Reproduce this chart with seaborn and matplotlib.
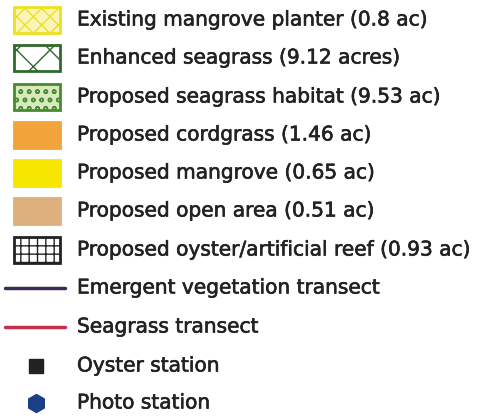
import seaborn as sns
import matplotlib.pyplot as plt
import matplotlib.patheffects as pe
from matplotlib.patches import Rectangle

sns.set_style("white")
plt.rcParams['font.family'] = ['DejaVu Sans']

labels = ['Existing mangrove planter (0.8 ac)',
          'Enhanced seagrass (9.12 acres)',
          'Proposed seagrass habitat (9.53 ac)',
          'Proposed cordgrass (1.46 ac)',
          'Proposed mangrove (0.65 ac)',
          'Proposed open area (0.51 ac)',
          'Proposed oyster/artificial reef (0.93 ac)',
          'Emergent vegetation transect',
          'Seagrass transect',
          'Oyster station',
          'Photo station']
kinds = ['patch'] * 7 + ['line', 'line', 'square', 'hex']
fills = ['#fbf4b8', '#ffffff', '#d6eabd', '#f2a43a', '#f7e600', '#ddb07e', '#ffffff',
         None, None, None, None]
edges = ['#ece020', '#2f6a2c', '#4a8a32', '#f2a43a', '#f7e600', '#ddb07e', '#222222',
         '#3b2b55', '#c42e4c', '#222222', '#1a3f85']
hatch_cols = ['#fffbe6', '#2f6a2c', '#3d7a2a', None, None, None, '#333333',
              None, None, None, None]
hatches = ['xx', 'x', 'oo', None, None, None, '++', None, None, None, None]
rows_y = [20, 58, 97, 135, 173, 211, 250, 288, 327, 366, 403]

fig = plt.figure(figsize=(4.79, 4.2), dpi=100)
ax = fig.add_axes([0, 0, 1, 1])
ax.set_xlim(0, 479)
ax.set_ylim(420, 0)
ax.axis('off')

stroke = [pe.withStroke(linewidth=0.45, foreground='#222222')]

for lab, kind, fc, ec, hc, h, y in zip(labels, kinds, fills, edges, hatch_cols,
                                       hatches, rows_y):
    if kind == 'patch':
        if hc:
            plt.rcParams['hatch.color'] = hc
        r = Rectangle((14, y - 13), 46, 26, facecolor=fc, edgecolor=ec,
                      linewidth=2, hatch=h)
        ax.add_patch(r)
    elif kind == 'line':
        ax.plot([5, 65], [y, y], color=ec, lw=2.5)
    elif kind == 'square':
        ax.plot([36], [y], marker='s', ms=10, color=ec, ls='none')
    else:
        ax.plot([36], [y], marker='h', ms=13, color=ec, ls='none')
    ax.text(77, y, lab, fontsize=14.5, color='#222222',
            va='center', ha='left', path_effects=stroke)

fig.savefig('out.png', dpi=100)
